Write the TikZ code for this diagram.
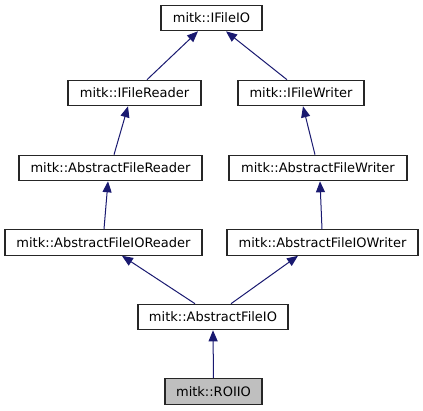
\documentclass[tikz,border=0pt]{standalone}
\usepackage{fontspec}
\setmainfont{DejaVu Sans}
\usetikzlibrary{arrows.meta}
\definecolor{edgeblue}{RGB}{25,25,112}
\definecolor{hlgray}{RGB}{191,191,191}
\tikzset{
  cls/.style={draw=black!85, line width=1.1pt, fill=white, inner sep=0pt,
    minimum height=25.5pt, font=\fontsize{13}{15}\selectfont, text=black},
  edge/.style={draw=edgeblue, line width=1pt,
    -{Triangle[length=11pt,width=9pt,fill=edgeblue]}}
}
\begin{document}
\begin{tikzpicture}[x=1pt,y=-1pt]
\useasboundingbox (0,0) rectangle (423,411);
\node[cls, minimum width=101pt] (io)   at (211.5,18)   {mitk::IFileIO};
\node[cls, minimum width=133pt] (ifr)  at (134.5,93)   {mitk::IFileReader};
\node[cls, minimum width=126pt] (ifw)  at (301,93)     {mitk::IFileWriter};
\node[cls, minimum width=183pt] (afr)  at (110.5,168)  {mitk::AbstractFileReader};
\node[cls, minimum width=178pt] (afw)  at (318,168)    {mitk::AbstractFileWriter};
\node[cls, minimum width=197pt] (aior) at (103.5,242.5){mitk::AbstractFileIOReader};
\node[cls, minimum width=191pt] (aiow) at (322.5,242.5){mitk::AbstractFileIOWriter};
\node[cls, minimum width=150pt] (aio)  at (213,317)    {mitk::AbstractFileIO};
\node[cls, minimum width=97pt, fill=hlgray] (roi) at (213.5,391.5) {mitk::ROIIO};
\draw[edge] ([xshift=12.5pt]ifr.north) -- ([xshift=-13.5pt]io.south);
\draw[edge] ([xshift=-14pt]ifw.north) -- ([xshift=14.5pt]io.south);
\draw[edge] ([xshift=3.5pt]afr.north) -- ([xshift=-6.5pt]ifr.south);
\draw[edge] ([xshift=-3pt]afw.north) -- ([xshift=2pt]ifw.south);
\draw[edge] ([xshift=0.5pt]aior.north) -- ([xshift=-2.5pt]afr.south);
\draw[edge] ([xshift=-0.5pt]aiow.north) -- ([xshift=2pt]afw.south);
\draw[edge] ([xshift=-18pt]aio.north) -- ([xshift=18.5pt]aior.south);
\draw[edge] ([xshift=18pt]aio.north) -- ([xshift=-24.5pt]aiow.south);
\draw[edge] (roi.north) -- (aio.south);
\end{tikzpicture}
\end{document}
